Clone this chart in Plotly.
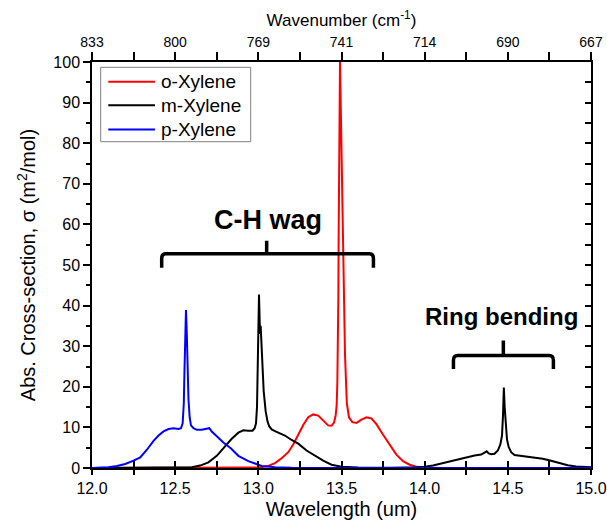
import plotly.graph_objects as go

# ---------------- data ----------------
wavelength_ticks = [12.0, 12.5, 13.0, 13.5, 14.0, 14.5, 15.0]
wavelength_labels = ["12.0", "12.5", "13.0", "13.5", "14.0", "14.5", "15.0"]
wavenumber_labels = ["833", "800", "769", "741", "714", "690", "667"]

o_x = [12.00, 12.90, 13.00, 13.06, 13.10, 13.14, 13.18, 13.21, 13.24, 13.27, 13.30, 13.33,
       13.36, 13.39, 13.42, 13.44, 13.455, 13.465, 13.471, 13.475, 13.478, 13.481, 13.483,
       13.486, 13.489, 13.491, 13.494, 13.498, 13.505, 13.512, 13.521, 13.532, 13.545, 13.565,
       13.59, 13.62, 13.65, 13.68, 13.71, 13.75, 13.79, 13.83, 13.87, 13.91, 13.95, 14.00,
       14.10, 15.00]
o_y = [0.0, 0.0, 0.1, 0.5, 1.2, 2.4, 3.9, 5.8, 8.2, 10.6, 12.5, 13.2,
       12.9, 11.6, 10.5, 10.4, 11.2, 13.0, 15.5, 21.0, 28.0, 42.0, 58.0,
       78.0, 94.0, 100.0, 93.0, 82.0, 60.0, 42.0, 28.0, 16.0, 12.5, 11.3,
       11.1, 11.9, 12.5, 12.2, 10.8, 8.2, 5.6, 3.3, 1.7, 0.8, 0.3, 0.1,
       0.0, 0.0]

m_x = [12.00, 12.50, 12.60, 12.65, 12.70, 12.75, 12.80, 12.84, 12.88, 12.91, 12.94, 12.965,
       12.978, 12.986, 12.992, 12.997, 13.001, 13.004, 13.007, 13.010, 13.014, 13.018, 13.024,
       13.032, 13.044, 13.055, 13.065, 13.08, 13.10, 13.13, 13.16, 13.20, 13.24, 13.29, 13.34,
       13.39, 13.44, 13.50, 13.60, 13.80, 13.95, 14.00, 14.05, 14.10, 14.15, 14.20, 14.25,
       14.30, 14.34, 14.36, 14.373, 14.385, 14.40, 14.42, 14.44, 14.455, 14.465, 14.471,
       14.476, 14.481, 14.487, 14.495, 14.505, 14.52, 14.54, 14.58, 14.62, 14.66, 14.71,
       14.76, 14.81, 14.86, 14.91, 14.96, 15.00]
m_y = [0.0, 0.02, 0.2, 0.6, 1.4, 3.0, 5.4, 7.2, 8.7, 9.3, 9.2, 9.2,
       9.8, 11.0, 15.0, 25.0, 37.0, 42.7, 38.0, 33.0, 35.0, 31.0, 25.0,
       19.0, 14.0, 11.5, 10.3, 9.5, 9.1, 8.6, 8.0, 6.9, 6.0, 4.3, 3.0,
       1.8, 0.8, 0.3, 0.1, 0.05, 0.2, 0.3, 0.6, 1.1, 1.7, 2.2, 2.7,
       3.1, 3.3, 3.7, 4.1, 3.6, 3.4, 3.5, 4.3, 5.8, 8.0, 13.0,
       19.8, 15.0, 10.0, 7.0, 5.2, 3.9, 3.2, 3.0, 2.9, 2.7, 2.3,
       1.8, 1.2, 0.7, 0.4, 0.25, 0.2]

p_x = [12.00, 12.05, 12.10, 12.15, 12.20, 12.25, 12.29, 12.33, 12.37, 12.40, 12.43, 12.46,
       12.49, 12.52, 12.535, 12.545, 12.552, 12.556, 12.560, 12.565, 12.570, 12.574, 12.580,
       12.587, 12.595, 12.61, 12.63, 12.66, 12.69, 12.705, 12.72, 12.755, 12.79, 12.836,
       12.88, 12.94, 13.02, 13.10, 13.20, 15.00]
p_y = [0.0, 0.05, 0.2, 0.5, 1.0, 1.8, 2.6, 4.5, 6.7, 8.0, 9.0, 9.6,
       9.8, 9.6, 9.8, 11.0, 16.0, 24.0, 32.0, 38.9, 33.0, 25.0, 17.0,
       12.5, 10.5, 9.8, 9.4, 9.4, 9.7, 9.8, 9.0, 7.6, 6.3, 4.8,
       3.0, 1.7, 0.5, 0.2, 0.05, 0.0]

series_names = ["o-Xylene", "m-Xylene", "p-Xylene"]
series_colors = ["#ff0000", "#000000", "#0000ff"]

ch_label = "C-H wag"
ring_label = "Ring bending"

FONT = "Arial, Liberation Sans, sans-serif"

# plot-area geometry in pixels
W_FIG, H_FIG = 607, 525
M_L, M_R, M_T, M_B = 92, 16, 62, 57
PW = W_FIG - M_L - M_R
PH = H_FIG - M_T - M_B


def px_to_paper(px, py):
    return (px - M_L) / PW, (H_FIG - M_B - py) / PH


fig = go.Figure()
for xs, ys, name, col in zip([o_x, m_x, p_x], [o_y, m_y, p_y], series_names, series_colors):
    fig.add_trace(go.Scatter(x=xs, y=ys, mode="lines", name=name,
                             line=dict(color=col, width=2), showlegend=False))

# invisible carrier traces so the secondary (frame) axes get drawn
fig.add_trace(go.Scatter(x=o_x, y=o_y, xaxis="x2", yaxis="y2", mode="lines",
                         line=dict(width=0, color="rgba(0,0,0,0)"), hoverinfo="skip",
                         showlegend=False))
fig.add_trace(go.Scatter(x=o_x, y=o_y, xaxis="x3", yaxis="y", mode="lines",
                         line=dict(width=0, color="rgba(0,0,0,0)"), hoverinfo="skip",
                         showlegend=False))


def brace_path(x0, x1, xc, y_line, y_end, y_top, rx, ry):
    return (f"M {x0},{y_end} L {x0},{y_line - ry} Q {x0},{y_line} {x0 + rx},{y_line} "
            f"L {x1 - rx},{y_line} Q {x1},{y_line} {x1},{y_line - ry} L {x1},{y_end} "
            f"M {xc},{y_line} L {xc},{y_top}")


shapes = [
    dict(type="path", xref="x", yref="y",
         path=brace_path(12.419, 13.692, 13.05, 52.8, 49.3, 56.0, 0.025, 1.2),
         line=dict(color="black", width=3.5)),
    dict(type="path", xref="x", yref="y",
         path=brace_path(14.173, 14.774, 14.473, 27.7, 24.4, 31.4, 0.025, 1.2),
         line=dict(color="black", width=3.5)),
]

annotations = [
    dict(x=13.058, y=61.2, xref="x", yref="y", text=f"<b>{ch_label}</b>", showarrow=False,
         font=dict(family=FONT, size=27, color="black")),
    dict(x=14.46, y=37.3, xref="x", yref="y", text=f"<b>{ring_label}</b>", showarrow=False,
         font=dict(family=FONT, size=24, color="black")),
]

# ---- hand-drawn legend box (as in the reference) ----
lx0, ly0 = px_to_paper(100.7, 67.3)
lx1, ly1 = px_to_paper(250.7, 141.7)
shapes.append(dict(type="rect", xref="paper", yref="paper", x0=lx0, y0=ly1, x1=lx1, y1=ly0,
                   line=dict(color="#808080", width=1), fillcolor="white", layer="above"))
legend_rows_px = [81.7, 105.3, 129.5]
for row, name, col in zip(legend_rows_px, series_names, series_colors):
    sx0, sy = px_to_paper(108.3, row)
    sx1, _ = px_to_paper(155.0, row)
    shapes.append(dict(type="line", xref="paper", yref="paper", x0=sx0, x1=sx1, y0=sy, y1=sy,
                       line=dict(color=col, width=2), layer="above"))
    tx, _ = px_to_paper(159.0, row)
    annotations.append(dict(x=tx, y=sy, xref="paper", yref="paper", text=name,
                            xanchor="left", yanchor="middle", showarrow=False,
                            font=dict(family=FONT, size=19, color="black")))

axis_common = dict(showgrid=False, zeroline=False, showline=True, linecolor="black",
                   linewidth=1.5, tickcolor="black", tickwidth=1.5, automargin=False)

fig.update_layout(
    width=W_FIG, height=H_FIG,
    margin=dict(l=M_L, r=M_R, t=M_T, b=M_B, autoexpand=False),
    paper_bgcolor="white", plot_bgcolor="white",
    font=dict(family=FONT, color="black"),
    shapes=shapes, annotations=annotations,
    showlegend=False,
    xaxis=dict(range=[12, 15], tickvals=wavelength_ticks, ticktext=wavelength_labels,
               ticks="outside", ticklen=5, tickfont=dict(size=16),
               minor=dict(dtick=0.25, ticks="outside", ticklen=5, tickcolor="black", tickwidth=1.5),
               title=dict(text="Wavelength (um)", font=dict(size=20), standoff=6),
               **axis_common),
    xaxis2=dict(range=[12, 15], overlaying="x", side="top", anchor="y2",
                tickvals=wavelength_ticks, ticktext=wavenumber_labels,
                ticks="outside", ticklen=8, tickfont=dict(size=14),
                minor=dict(dtick=0.25, ticks="outside", ticklen=8, tickcolor="black", tickwidth=1.5),
                title=dict(text="Wavenumber (cm<sup>-1</sup>)", font=dict(size=17), standoff=3),
                **axis_common),
    xaxis3=dict(range=[12, 15], overlaying="x", side="bottom", anchor="y",
                tickvals=wavelength_ticks, showticklabels=False,
                ticks="inside", ticklen=7,
                minor=dict(dtick=0.25, ticks="inside", ticklen=7, tickcolor="black", tickwidth=1.5),
                **axis_common),
    yaxis=dict(range=[0, 100], dtick=10, ticks="outside", ticklen=7, tickfont=dict(size=16),
               minor=dict(dtick=5, ticks="outside", ticklen=4, tickcolor="black", tickwidth=1.5),
               title=dict(text="Abs. Cross-section, σ (m<sup>2</sup>/mol)", font=dict(size=20),
                          standoff=12),
               **axis_common),
    yaxis2=dict(range=[0, 100], overlaying="y", side="right", anchor="x2",
                dtick=10, ticks="inside", ticklen=6, showticklabels=False,
                minor=dict(dtick=5, ticks="inside", ticklen=6, tickcolor="black", tickwidth=1.5),
                **axis_common),
)

fig.write_html("out.html")
